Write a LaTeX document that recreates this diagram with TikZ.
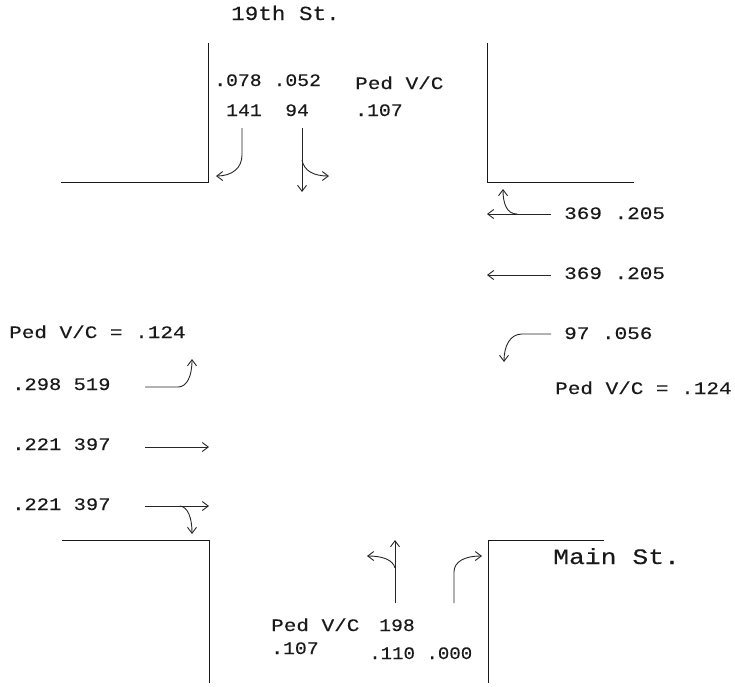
\documentclass[tikz,border=0pt]{standalone}
\usepackage{fontspec}
\usetikzlibrary{arrows.meta}
\newfontfamily\monoA[FakeStretch=1.13,FakeBold=0.2]{Liberation Mono}
\newfontfamily\monoB[FakeStretch=1.13,FakeBold=0.2]{Liberation Mono}
\newfontfamily\monoC[FakeStretch=1.2,FakeBold=0.2]{Liberation Mono}
\newfontfamily\monoD[FakeStretch=1.09,FakeBold=0.2]{Liberation Mono}
\newfontfamily\monoE[FakeStretch=1.17,FakeBold=0.2]{Liberation Mono}
\tikzset{
  x=1pt,y=-1pt,
  curb/.style={draw=black!90,line width=.9pt},
  move/.style={draw=black!85,line width=.9pt,-{Straight Barb[length=6pt,width=9pt,line width=.9pt]}},
  lab/.style={anchor=base west,inner sep=0pt,font=\monoA\fontsize{17.5}{19}\selectfont,text=black!90},
  wide/.style={lab,font=\monoC\fontsize{17.5}{19}\selectfont},
  tight/.style={lab,font=\monoD\fontsize{17.5}{19}\selectfont},
  mid/.style={lab,font=\monoE\fontsize{17.5}{19}\selectfont},
  title/.style={anchor=base west,inner sep=0pt,text=black!90},
}
\begin{document}
\begin{tikzpicture}
\useasboundingbox (0,0) rectangle (735,686);
% curbs
\draw[curb] (208,43) -- (208,182) -- (61,182);
\draw[curb] (487,43) -- (487,182) -- (634,182);
\draw[curb] (62,540) -- (209,540) -- (209,683);
\draw[curb] (604,540) -- (488,540) -- (488,683);
% north approach
\draw[move] (242,128) -- (242,155) .. controls (242,168) and (232,176) .. (216,176);
\draw[move] (302,128) -- (302,192);
\draw[move] (302,160) .. controls (304,171) and (314,176) .. (329,176);
% east approach
\draw[move] (551,214) -- (487,214);
\draw[move] (517,214) .. controls (507,214) and (503,204) .. (503,189);
\draw[move] (551,275) -- (487,275);
\draw[move] (551,334) -- (522,334) .. controls (510,334) and (504,346) .. (504,362);
% west approach
\draw[move] (145,387) -- (178,387) .. controls (187,387) and (192,376) .. (192,359);
\draw[move] (145,447) -- (209,447);
\draw[move] (145,506) -- (209,506);
\draw[move] (180,506) .. controls (188,507) and (192,518) .. (192,534);
% south approach
\draw[move] (395,603) -- (395,540);
\draw[move] (395,568) .. controls (393,560) and (383,556) .. (367,556);
\draw[move] (454,603) -- (454,572) .. controls (454,562) and (464,556) .. (482,556);
% labels
\node[title,font=\monoB\fontsize{20}{22}\selectfont] (t19) at (231,20) {19th St.};
\node[title,font=\monoC\fontsize{22}{24}\selectfont] (tmain) at (553,564) {Main St.};
\node[lab] (n1) at (214,86) {.078 .052};
\node[lab] (n2) at (226,116) {141};
\node[lab] (n3) at (285,116) {94};
\node[wide] (n4) at (355,89) {Ped V/C};
\node[lab] (n5) at (355,116) {.107};
\node[wide] (e1) at (564,219) {369 .205};
\node[wide] (e2) at (564,279) {369 .205};
\node[wide] (e3) at (564,339) {97 .056};
\node[wide] (e4) at (555,394) {Ped V/C = .124};
\node[wide] (w1) at (9,338) {Ped V/C = .124};
\node[mid] (w2) at (12,390) {.298 519};
\node[mid] (w3) at (12,450) {.221 397};
\node[mid] (w4) at (12,510) {.221 397};
\node[wide] (s1) at (271,631) {Ped V/C};
\node[lab] (s2) at (379,631) {198};
\node[lab] (s3) at (271,654) {.107};
\node[tight] (s4) at (369,659) {.110 .000};
\end{tikzpicture}
\end{document}
